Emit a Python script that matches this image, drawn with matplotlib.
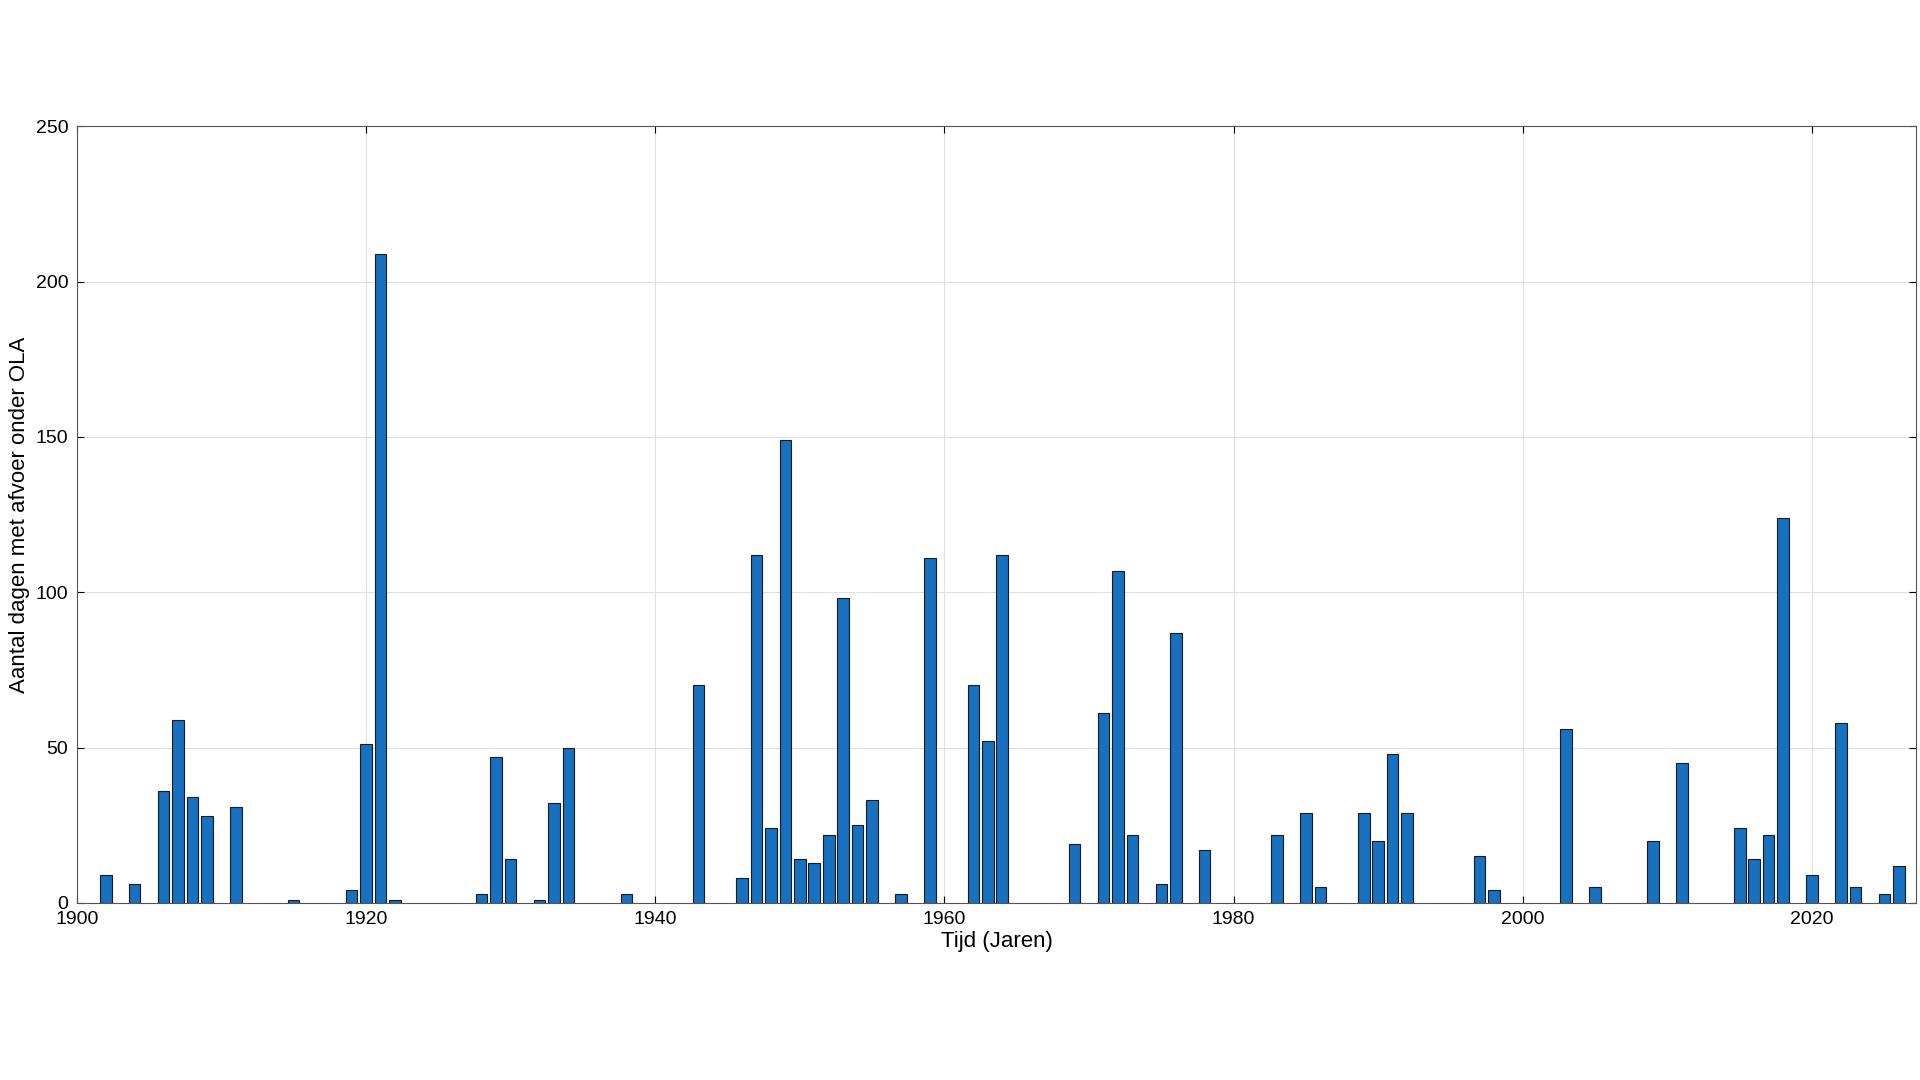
import matplotlib.pyplot as plt

years = [1902, 1904, 1906, 1907, 1908, 1909, 1911, 1915, 1919, 1920, 1921, 1922,
         1928, 1929, 1930, 1932, 1933, 1934, 1938, 1943, 1946, 1947, 1948, 1949,
         1950, 1951, 1952, 1953, 1954, 1955, 1957, 1959, 1962, 1963, 1964, 1969,
         1971, 1972, 1973, 1975, 1976, 1978, 1983, 1985, 1986, 1989, 1990, 1991,
         1992, 1997, 1998, 2003, 2005, 2009, 2011, 2015, 2016, 2017, 2018, 2020,
         2022, 2023, 2025, 2026]
days = [9, 6, 36, 59, 34, 28, 31, 1, 4, 51, 209, 1,
        3, 47, 14, 1, 32, 50, 3, 70, 8, 112, 24, 149,
        14, 13, 22, 98, 25, 33, 3, 111, 70, 52, 112, 19,
        61, 107, 22, 6, 87, 17, 22, 29, 5, 29, 20, 48,
        29, 15, 4, 56, 5, 20, 45, 24, 14, 22, 124, 9,
        58, 5, 3, 12]

plt.rcParams["font.family"] = ["Liberation Sans", "DejaVu Sans"]
fig = plt.figure(figsize=(19.2, 10.8), dpi=100)
ax = fig.add_axes([0.04, 0.164, 0.958, 0.719])
ax.bar(years, days, width=0.8, color="#1770C0", edgecolor="#1a1a1a", linewidth=0.8, zorder=3)
ax.set_xlim(1900, 2027.2)
ax.set_ylim(0, 250)
ax.set_xticks(range(1900, 2021, 20))
ax.set_yticks(range(0, 251, 50))
ax.grid(True, color="#e0e0e0", linewidth=0.8, zorder=0)
ax.tick_params(direction="in", labelsize=14, length=5, top=True, right=True,
               labeltop=False, labelright=False)
ax.tick_params(axis="x", pad=6)
ax.tick_params(axis="y", pad=6)
for s in ax.spines.values():
    s.set_color("#555555")
ax.set_xlabel("Tijd (Jaren)", fontsize=16, labelpad=2)
ax.set_ylabel("Aantal dagen met afvoer onder OLA", fontsize=16, labelpad=4)
fig.savefig("out.png")
